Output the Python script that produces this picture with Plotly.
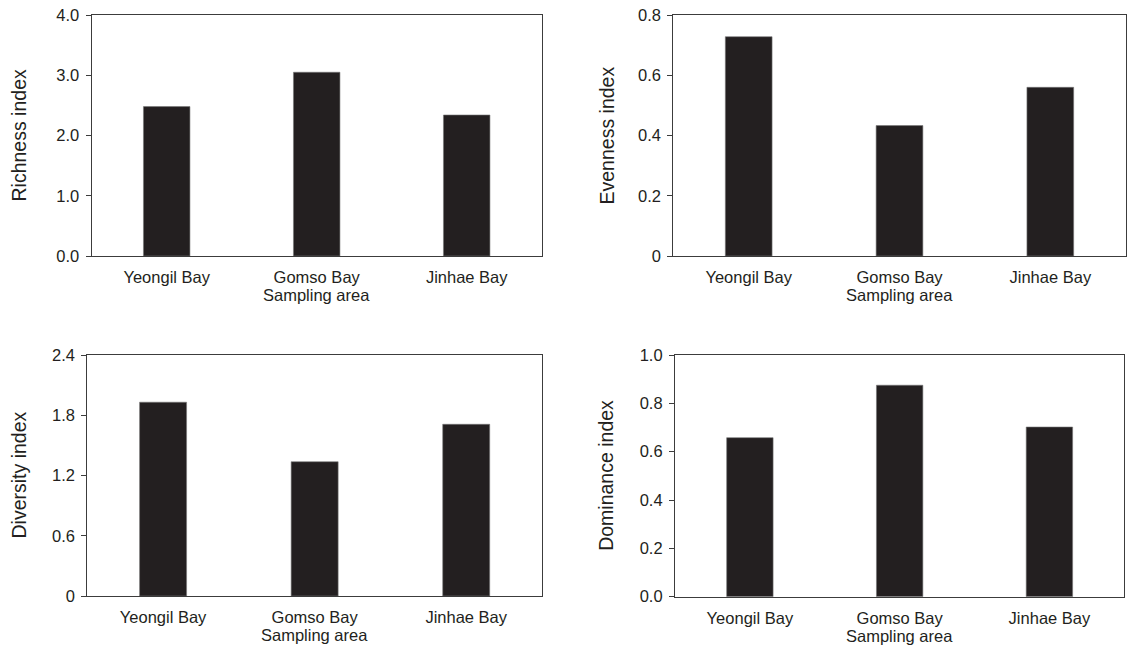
import plotly.graph_objects as go

W, H = 1129, 649

areas = ["Yeongil Bay", "Gomso Bay", "Jinhae Bay"]
richness = [2.48, 3.05, 2.34]
evenness = [0.728, 0.433, 0.56]
diversity = [1.93, 1.337, 1.71]
dominance = [0.658, 0.875, 0.702]

rich_ticks = [0, 1, 2, 3, 4]
rich_text = ["0.0", "1.0", "2.0", "3.0", "4.0"]
even_ticks = [0, 0.2, 0.4, 0.6, 0.8]
even_text = ["0", "0.2", "0.4", "0.6", "0.8"]
div_ticks = [0, 0.6, 1.2, 1.8, 2.4]
div_text = ["0", "0.6", "1.2", "1.8", "2.4"]
dom_ticks = [0, 0.2, 0.4, 0.6, 0.8, 1.0]
dom_text = ["0.0", "0.2", "0.4", "0.6", "0.8", "1.0"]

panels = [
    # values, ytitle, ticks, text, ymax, x px box, y px box, ytitle x px
    (richness, "Richness index", rich_ticks, rich_text, 4.0, (91.7, 541.7), (15, 256), 18),
    (evenness, "Evenness index", even_ticks, even_text, 0.8, (673.3, 1125.7), (15, 256), 606),
    (diversity, "Diversity index", div_ticks, div_text, 2.4, (87.3, 542.0), (355, 596), 18),
    (dominance, "Dominance index", dom_ticks, dom_text, 1.0, (675.0, 1124.3), (355, 596.7), 606),
]

FONT = "Liberation Sans, Arial, sans-serif"
TXT = "#231f20"
AX = "#3c3c3c"


def px(v):
    return v / W


def py(v):
    return 1 - v / H


fig = go.Figure()
annotations = []
layout = {}
for i, (vals, ytitle, tv, tt, ymax, (x0, x1), (y0, y1), tx) in enumerate(panels):
    n = "" if i == 0 else str(i + 1)
    fig.add_trace(go.Bar(
        x=areas, y=vals, xaxis="x" + n, yaxis="y" + n,
        marker=dict(color="#231f20", line=dict(color="#777777", width=0.6)),
        showlegend=False,
    ))
    layout["xaxis" + n] = dict(
        domain=[px(x0), px(x1)], anchor="y" + n, automargin=False,
        showline=True, linecolor=AX, linewidth=1.2, mirror=True,
        ticks="", showgrid=False, zeroline=False, ticklabelstandoff=6,
        tickfont=dict(family=FONT, size=16.5, color=TXT),
        fixedrange=True,
    )
    layout["yaxis" + n] = dict(
        domain=[py(y1), py(y0)], anchor="x" + n, automargin=False,
        range=[0, ymax], tickvals=tv, ticktext=tt,
        showline=True, linecolor=AX, linewidth=1.2, mirror=True,
        ticks="outside", ticklen=5, tickcolor=AX, tickwidth=1.2,
        showgrid=False, zeroline=False, ticklabelstandoff=3,
        ticklabeloverflow="allow",
        tickfont=dict(family=FONT, size=16.5, color=TXT),
        fixedrange=True,
    )
    annotations.append(dict(
        text=ytitle, x=px(tx), y=py((y0 + y1) / 2), xref="paper", yref="paper",
        textangle=-90, showarrow=False, xanchor="center", yanchor="middle",
        font=dict(family=FONT, size=19.5, color=TXT),
    ))
    xc = x0 + (x1 - x0) / 2
    annotations.append(dict(
        text="Sampling area", x=px(xc), y=py(y1 + 39), xref="paper", yref="paper",
        showarrow=False, xanchor="center", yanchor="middle",
        font=dict(family=FONT, size=16.5, color=TXT),
    ))

fig.update_layout(
    width=W, height=H,
    margin=dict(l=0, r=0, t=0, b=0, autoexpand=False),
    paper_bgcolor="white", plot_bgcolor="white",
    bargap=0.69,
    annotations=annotations,
    **layout,
)

fig.write_html(
    "out.html",
    config={"displayModeBar": False},
    post_script="document.body.style.margin='0';",
)
